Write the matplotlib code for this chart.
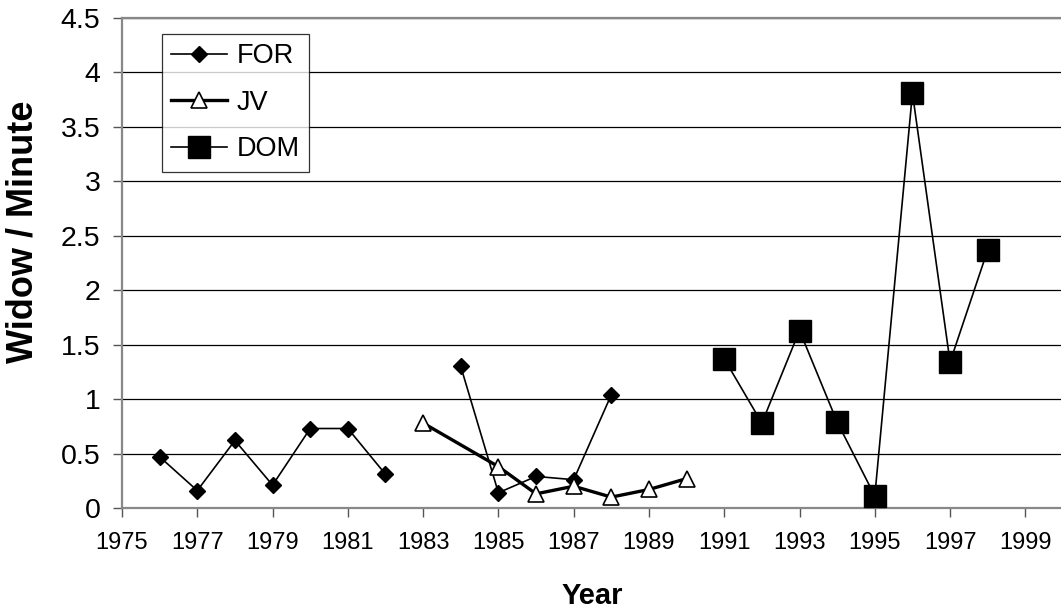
import numpy as np
import matplotlib.pyplot as plt

plt.rcParams['font.family'] = ['Liberation Sans', 'DejaVu Sans']

# series data
for_years = [1976, 1977, 1978, 1979, 1980, 1981, 1982, 1983, 1984, 1985, 1986, 1987, 1988]
for_vals = [0.47, 0.16, 0.62, 0.21, 0.73, 0.73, 0.31, np.nan, 1.30, 0.14, 0.29, 0.26, 1.04]

jv_years = [1983, 1985, 1986, 1987, 1988, 1989, 1990]
jv_vals = [0.78, 0.38, 0.13, 0.20, 0.10, 0.17, 0.27]

dom_years = [1991, 1992, 1993, 1994, 1995, 1996, 1997, 1998]
dom_vals = [1.37, 0.78, 1.63, 0.79, 0.11, 3.81, 1.34, 2.37]

xticks = list(range(1975, 2000, 2))
yticks = [0, 0.5, 1, 1.5, 2, 2.5, 3, 3.5, 4, 4.5]
ytick_labels = ['0', '0.5', '1', '1.5', '2', '2.5', '3', '3.5', '4', '4.5']

W, H = 1061, 616
fig = plt.figure(figsize=(W / 100, H / 100), dpi=100)
ax = fig.add_axes([122 / W, 108 / H, 941 / W, 490 / H])

ax.plot(for_years, for_vals, color='black', lw=1.2, marker='D', ms=8,
        mfc='black', mec='black', label='FOR', zorder=3)
ax.plot(jv_years, jv_vals, color='black', lw=2.4, marker='^', ms=11,
        mfc='white', mec='black', mew=1.2, label='JV', zorder=4)
ax.plot(dom_years, dom_vals, color='black', lw=1.2, marker='s', ms=16,
        mfc='black', mec='black', label='DOM', zorder=3)

ax.set_xlim(1975, 2000)
ax.set_ylim(0, 4.5)
ax.set_xticks(xticks)
ax.set_xticklabels([str(x) for x in xticks], fontsize=17)
ax.set_yticks(yticks)
ax.set_yticklabels(ytick_labels, fontsize=20.5)

ax.yaxis.grid(True, color='black', lw=0.9)
ax.set_axisbelow(True)
for s in ax.spines.values():
    s.set_color('#888888')
    s.set_linewidth(1.6)

ax.tick_params(axis='both', color='#555555', length=6.5, width=1, direction='out')
ax.tick_params(axis='y', pad=9)
ax.tick_params(axis='x', pad=11)

# axis titles
fig.text(592 / W, 1 - 596 / H, 'Year', fontsize=21, fontweight='bold',
         ha='center', va='center')
fig.text(23 / W, 1 - 232 / H, 'Widow / Minute', fontsize=26, fontweight='bold',
         rotation=90, ha='center', va='center')

leg = ax.legend(loc='upper left', bbox_to_anchor=(162 / W, 1 - 34 / H),
                bbox_transform=fig.transFigure, fontsize=19.5, frameon=True,
                fancybox=False, edgecolor='black', handlelength=2.05,
                handletextpad=0.35, labelspacing=0.75, borderpad=0.35,
                borderaxespad=0)
leg.get_frame().set_linewidth(0.9)

fig.savefig('out.png', dpi=100)
